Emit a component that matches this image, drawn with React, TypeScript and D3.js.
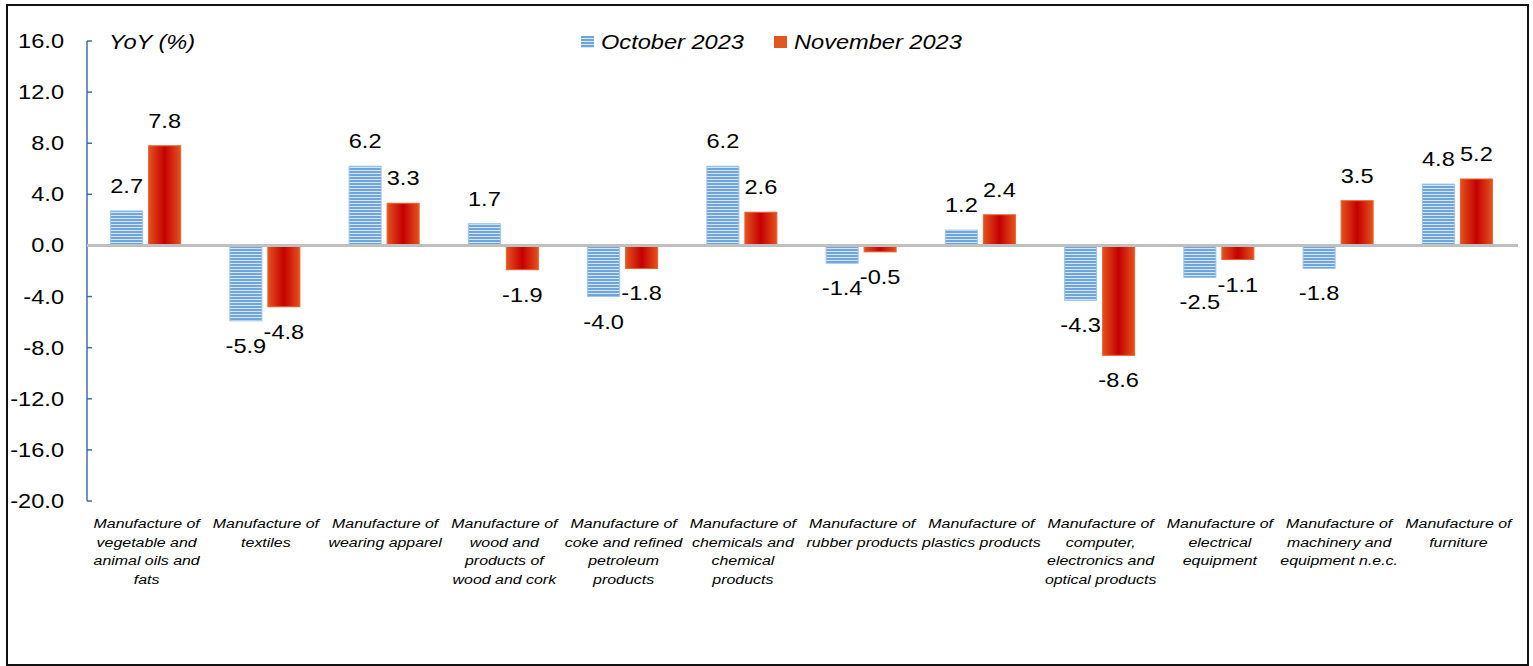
import React from 'react';
import * as d3 from 'd3';

const categories = [
  'Manufacture of\nvegetable and\nanimal oils and\nfats',
  'Manufacture of\ntextiles',
  'Manufacture of\nwearing apparel',
  'Manufacture of\nwood and\nproducts of\nwood and cork',
  'Manufacture of\ncoke and refined\npetroleum\nproducts',
  'Manufacture of\nchemicals and\nchemical\nproducts',
  'Manufacture of\nrubber products',
  'Manufacture of\nplastics products',
  'Manufacture of\ncomputer,\nelectronics and\noptical products',
  'Manufacture of\nelectrical\nequipment',
  'Manufacture of\nmachinery and\nequipment n.e.c.',
  'Manufacture of\nfurniture',
];
const october2023 = [2.7, -5.9, 6.2, 1.7, -4.0, 6.2, -1.4, 1.2, -4.3, -2.5, -1.8, 4.8];
const november2023 = [7.8, -4.8, 3.3, -1.9, -1.8, 2.6, -0.5, 2.4, -8.6, -1.1, 3.5, 5.2];
const yTicks = [16, 12, 8, 4, 0, -4, -8, -12, -16, -20];
const seriesNames = ['October 2023', 'November 2023'];
const yTitle = 'YoY (%)';

const W = 1533;
const H = 666;
const SX = 1.18;
const FONT = 'Arial, "Liberation Sans", sans-serif';

function T({ x, y, size, italic, anchor, children }: any) {
  return (
    <text
      transform={`translate(${x},${y}) scale(${SX},1)`}
      fontSize={size}
      fontStyle={italic ? 'italic' : 'normal'}
      textAnchor={anchor || 'middle'}
      fontFamily={FONT}
      fill="#000"
    >
      {children}
    </text>
  );
}

export default function App() {
  const left = 87, right = 1518, top = 41, bottom = 501;
  const y = d3.scaleLinear().domain([-20, 16]).range([bottom, top]);
  const x = d3.scaleBand<number>().domain(categories.map((_, i) => i)).range([left, right]);
  const inner = d3.scaleBand<string>().domain(['oct', 'nov']).range([-36, 34]).paddingInner(0.158);
  const bw = inner.bandwidth();
  const series = [
    { key: 'oct', values: october2023, fill: 'url(#octPattern)', stroke: '#9DC3E6' },
    { key: 'nov', values: november2023, fill: 'url(#novGrad)', stroke: '#E8602A' },
  ];
  const y0 = y(0);

  return (
    <svg width={W} height={H} style={{ position: 'absolute', left: 0, top: 0, background: '#fff' }}>
      <defs>
        <pattern id="octPattern" patternUnits="userSpaceOnUse" width={4} height={3}>
          <rect width={4} height={3} fill="#D6E6F6" />
          <rect width={4} height={2} fill="#6EA6DC" />
        </pattern>
        <linearGradient id="novGrad" x1="0" x2="1" y1="0" y2="0">
          <stop offset="0" stopColor="#E4521E" />
          <stop offset="0.5" stopColor="#C40000" />
          <stop offset="1" stopColor="#E4521E" />
        </linearGradient>
      </defs>
      <rect x={0} y={0} width={W} height={H} fill="#fff" />
      <rect x={7} y={5} width={1521} height={660} fill="none" stroke="#111" strokeWidth={2} />

      {/* y axis */}
      <line x1={left} x2={left} y1={top} y2={bottom} stroke="#3F6FA8" strokeWidth={1.5} />
      {yTicks.map((t) => (
        <g key={t}>
          <line x1={left} x2={left + 5} y1={y(t)} y2={y(t)} stroke="#3F6FA8" strokeWidth={1.5} />
          <T x={64} y={y(t) + 7} size={20} anchor="end">{t.toFixed(1)}</T>
        </g>
      ))}
      <T x={109} y={49} size={20} italic anchor="start">{yTitle}</T>

      {/* legend */}
      <rect x={581} y={36} width={13} height={12} fill="url(#octPattern)" />
      <T x={601} y={49} size={20} italic anchor="start">{seriesNames[0]}</T>
      <rect x={774} y={36} width={13} height={12} fill="#E2561F" />
      <T x={794} y={49} size={20} italic anchor="start">{seriesNames[1]}</T>

      {/* bars */}
      {series.map((s) =>
        s.values.map((v, i) => {
          const bx = (x(i) as number) + x.bandwidth() / 2 + (inner(s.key) as number);
          const y1 = Math.min(y(v), y0);
          const h = Math.abs(y(v) - y0);
          return (
            <rect key={s.key + i} x={bx} y={y1} width={bw} height={h} fill={s.fill} stroke={s.stroke} strokeWidth={1} />
          );
        })
      )}
      <line x1={left} x2={right} y1={y0} y2={y0} stroke="#BFBFBF" strokeWidth={3} />

      {/* value labels */}
      {series.map((s) =>
        s.values.map((v, i) => {
          const cx = (x(i) as number) + x.bandwidth() / 2 + (inner(s.key) as number) + bw / 2;
          const ly = v >= 0 ? y(v) - 18 : y(v) + 32;
          return (
            <T key={'l' + s.key + i} x={cx} y={ly} size={20}>{v.toFixed(1)}</T>
          );
        })
      )}

      {/* category labels */}
      {categories.map((c, i) => {
        const cx = (x(i) as number) + x.bandwidth() / 2;
        return (
          <g key={'c' + i}>
            {c.split('\n').map((line, j) => (
              <T key={j} x={cx} y={528 + j * 18.5} size={13.5} italic>{line}</T>
            ))}
          </g>
        );
      })}
    </svg>
  );
}
